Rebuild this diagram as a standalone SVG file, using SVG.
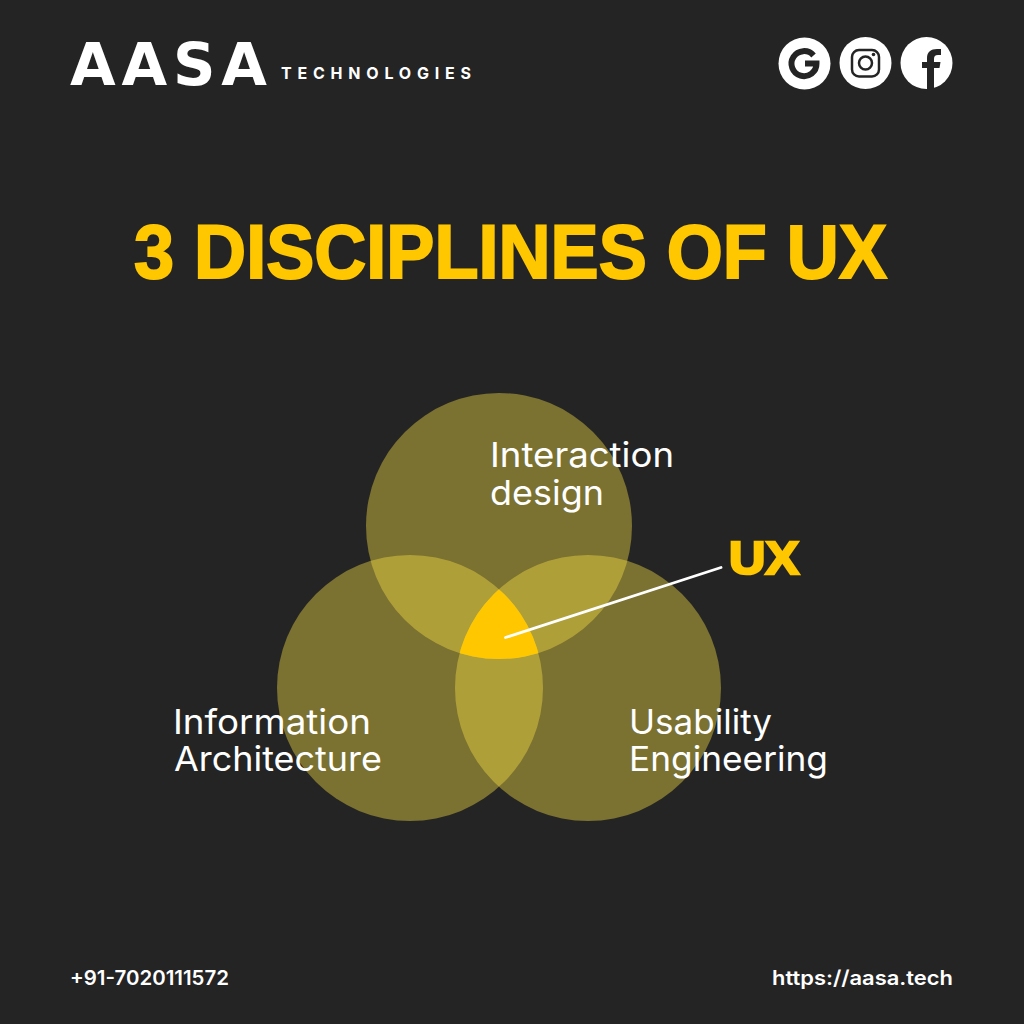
<svg xmlns="http://www.w3.org/2000/svg" width="1024" height="1024" viewBox="0 0 1024 1024">
<defs>
<style>
.lab{font-family:"Inter","Noto Sans",sans-serif;font-size:34px;font-weight:400;fill:#fff}
.foot{font-family:"Inter","Noto Sans",sans-serif;font-size:20px;font-weight:600;fill:#fff}
.head{font-family:"Liberation Sans",Arial,sans-serif;font-weight:700;fill:#ffc700;stroke:#ffc700}
.blob{fill:#ffe747;fill-opacity:.4}
.ic{fill:#fff}
</style>
<clipPath id="cA"><circle cx="499" cy="526" r="133"/></clipPath>
<clipPath id="cB"><circle cx="410" cy="688" r="133"/></clipPath>
</defs>
<rect width="1024" height="1024" fill="#242424"/>
<g id="logo">
<text x="70" y="85" textLength="197" lengthAdjust="spacing" style="font-family:'DejaVu Sans',sans-serif;font-weight:700;font-size:59px;fill:#fff">AASA</text>
<text x="281" y="78.500" textLength="190" lengthAdjust="spacing" style="font-family:'Inter',sans-serif;font-weight:700;font-size:16px;fill:#fff">TECHNOLOGIES</text>
</g>
<g id="icon-google">
<circle class="ic" cx="804.500" cy="63.500" r="26"/>
<path d="M805 63.500H816.500A12.500 12.500 0 1 1 813.500 55.500" fill="none" stroke="#242424" stroke-width="6"/>
</g>
<g id="icon-instagram">
<circle class="ic" cx="865.500" cy="63" r="26"/>
<rect x="852" y="50" width="27" height="26.500" rx="7" fill="none" stroke="#242424" stroke-width="2.500"/>
<circle cx="865.500" cy="63" r="6.500" fill="none" stroke="#242424" stroke-width="2.500"/>
<circle cx="873.500" cy="54.500" r="1.800" fill="#242424"/>
</g>
<g id="icon-facebook">
<circle class="ic" cx="926.500" cy="63" r="26"/>
<path d="M927 88.900V68H922V62H927V58C927 52 931 49 937 49H941V55H938C935 55 934 56.500 934 59V62H940.500L939.500 68H934V88.900Z" fill="#242424"/>
</g>
<text id="title" class="head" x="134" y="277.500" font-size="76" stroke-width="2" textLength="753" lengthAdjust="spacingAndGlyphs">3 DISCIPLINES OF UX</text>
<g id="node-interaction">
<circle class="blob" cx="499" cy="526" r="133"/>
<text class="lab" x="490" y="467" textLength="184" lengthAdjust="spacingAndGlyphs">Interaction</text>
<text class="lab" x="490" y="505" textLength="114" lengthAdjust="spacingAndGlyphs">design</text>
</g>
<g id="node-information">
<circle class="blob" cx="410" cy="688" r="133"/>
<text class="lab" x="173" y="733.500" textLength="198" lengthAdjust="spacingAndGlyphs">Information</text>
<text class="lab" x="174" y="771" textLength="208" lengthAdjust="spacingAndGlyphs">Architecture</text>
</g>
<g id="node-usability">
<circle class="blob" cx="588" cy="688" r="133"/>
<text class="lab" x="629" y="733.500" textLength="143" lengthAdjust="spacingAndGlyphs">Usability</text>
<text class="lab" x="629" y="771" textLength="199" lengthAdjust="spacingAndGlyphs">Engineering</text>
</g>
<g id="node-ux">
<g clip-path="url(#cA)"><g clip-path="url(#cB)"><circle cx="588" cy="688" r="133" fill="#ffc700"/></g></g>
<text class="head" x="729" y="574" font-size="46" stroke-width="2.500" textLength="70" lengthAdjust="spacingAndGlyphs">UX</text>
</g>
<g id="connectors">
<line x1="505.500" y1="637.500" x2="721" y2="567.500" stroke="#fff" stroke-width="2.800" stroke-linecap="round"/>
</g>
<g id="footer">
<text class="foot" x="70" y="985" textLength="159" lengthAdjust="spacingAndGlyphs">+91-7020111572</text>
<text class="foot" x="772" y="985" textLength="181" lengthAdjust="spacingAndGlyphs">https://aasa.tech</text>
</g>
</svg>
